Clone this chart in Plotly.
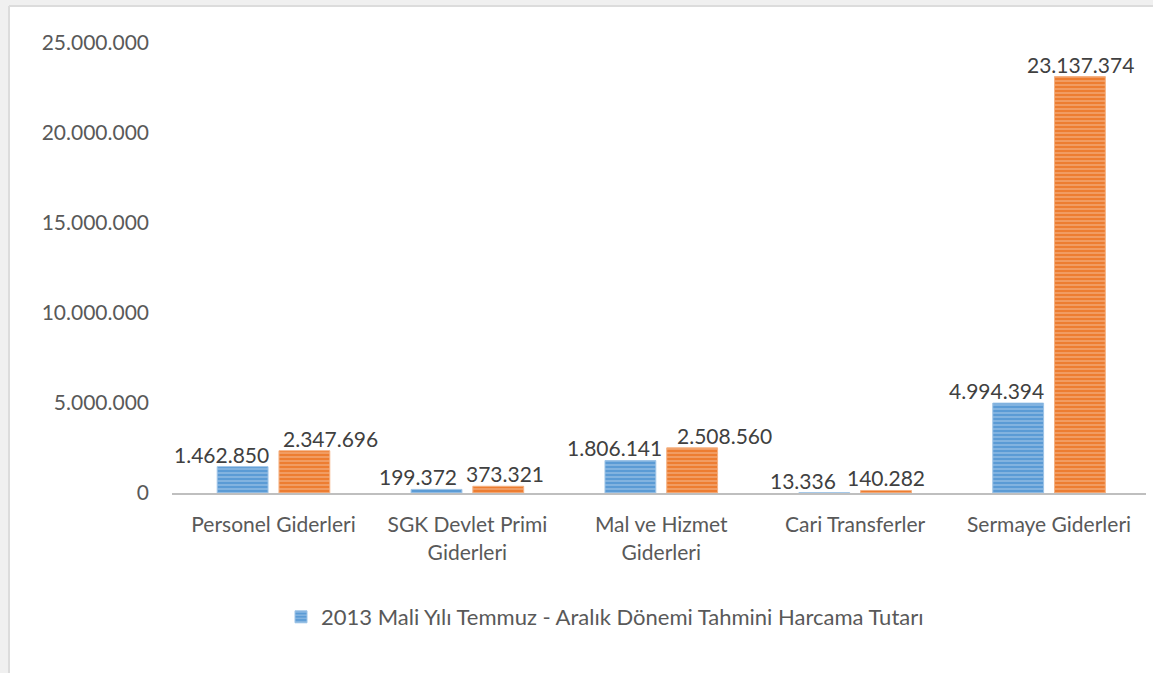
import plotly.graph_objects as go

categories = ["Personel Giderleri", "SGK Devlet Primi<br>Giderleri", "Mal ve Hizmet<br>Giderleri",
              "Cari Transferler", "Sermaye Giderleri"]
series_a_name = "2013 Mali Yılı Temmuz - Aralık Dönemi Tahmini Harcama Tutarı"
series_a = [1462850, 199372, 1806141, 13336, 4994394]
series_b = [2347696, 373321, 2508560, 140282, 23137374]
tick_vals = [0, 5000000, 10000000, 15000000, 20000000, 25000000]
tick_text = ["0", "5.000.000", "10.000.000", "15.000.000", "20.000.000", "25.000.000"]

# style: label horizontal offsets (px from category centre)
dx_a = [-52, -49, -47, -52, -53]
dx_b = [57, 38, 63, 31, 31]

def fmt(v):
    return f"{v:,}".replace(",", ".")

W, H = 1153, 673
ML, MR, MT, MB = 172, 7, 43, 180
FONT = "Lato, 'Open Sans', sans-serif"
FS = 21

fig = go.Figure()
fig.add_trace(go.Bar(
    x=categories, y=series_a, name=series_a_name,
    marker=dict(color="#5b9bd5", line=dict(color="#9dc3e6", width=1),
                pattern=dict(shape="-", fgcolor="#deebf7", bgcolor="#5b9bd5", size=4, solidity=0.3)),
))
fig.add_trace(go.Bar(
    x=categories, y=series_b, name="", showlegend=False,
    marker=dict(color="#ed7d31", line=dict(color="#f4b183", width=1),
                pattern=dict(shape="-", fgcolor="#fbe5d6", bgcolor="#ed7d31", size=4, solidity=0.3)),
))

annotations = []
for i, c in enumerate(categories):
    annotations.append(dict(x=c, y=series_a[i], xref="x", yref="y", text=fmt(series_a[i]),
                            showarrow=False, xshift=dx_a[i], yshift=-2, yanchor="bottom",
                            font=dict(size=FS, color="#404040", family=FONT)))
    annotations.append(dict(x=c, y=series_b[i], xref="x", yref="y", text=fmt(series_b[i]),
                            showarrow=False, xshift=dx_b[i], yshift=-2, yanchor="bottom",
                            font=dict(size=FS, color="#404040", family=FONT)))

pw = W - ML - MR
ph = H - MT - MB
def px_x(p):
    return (p - ML) / pw
def px_y(p):
    return (H - MB - p) / ph

shapes = [
    dict(type="rect", xref="paper", yref="paper", x0=px_x(0), x1=px_x(W), y0=px_y(0), y1=px_y(7),
         fillcolor="#f0f0f0", line=dict(width=0), layer="below"),
    dict(type="rect", xref="paper", yref="paper", x0=px_x(0), x1=px_x(9), y0=px_y(0), y1=px_y(H),
         fillcolor="#f0f0f0", line=dict(width=0), layer="below"),
    dict(type="line", xref="paper", yref="paper", x0=px_x(9), x1=px_x(W), y0=px_y(6), y1=px_y(6),
         line=dict(color="#dcdcdc", width=2), layer="below"),
    dict(type="line", xref="paper", yref="paper", x0=px_x(9), x1=px_x(9), y0=px_y(6), y1=px_y(H),
         line=dict(color="#dcdcdc", width=2), layer="below"),
]

fig.update_layout(
    width=W, height=H,
    margin=dict(l=ML, r=MR, t=MT, b=MB, pad=0),
    paper_bgcolor="white", plot_bgcolor="white",
    barmode="group", bargap=0.363, bargroupgap=0.177,
    font=dict(family=FONT, size=FS, color="#595959"),
    showlegend=True,
    legend=dict(orientation="h", x=px_x(605), xanchor="center", y=px_y(617), yanchor="middle",
                font=dict(size=22, color="#595959"), itemwidth=30),
    annotations=annotations,
    shapes=shapes,
)
fig.update_yaxes(range=[0, 25000000], tickvals=tick_vals, ticktext=tick_text, showgrid=False,
                 zeroline=False, showline=False, ticklabelstandoff=22,
                 tickfont=dict(size=FS, color="#595959"))
fig.update_xaxes(showline=True, linecolor="#bfbfbf", linewidth=2, ticks="", ticklabelstandoff=12,
                 tickfont=dict(size=FS, color="#595959"))

fig.write_html("out.html", config={"displayModeBar": False},
               post_script="document.body.style.margin='0';document.body.style.overflow='hidden';")
